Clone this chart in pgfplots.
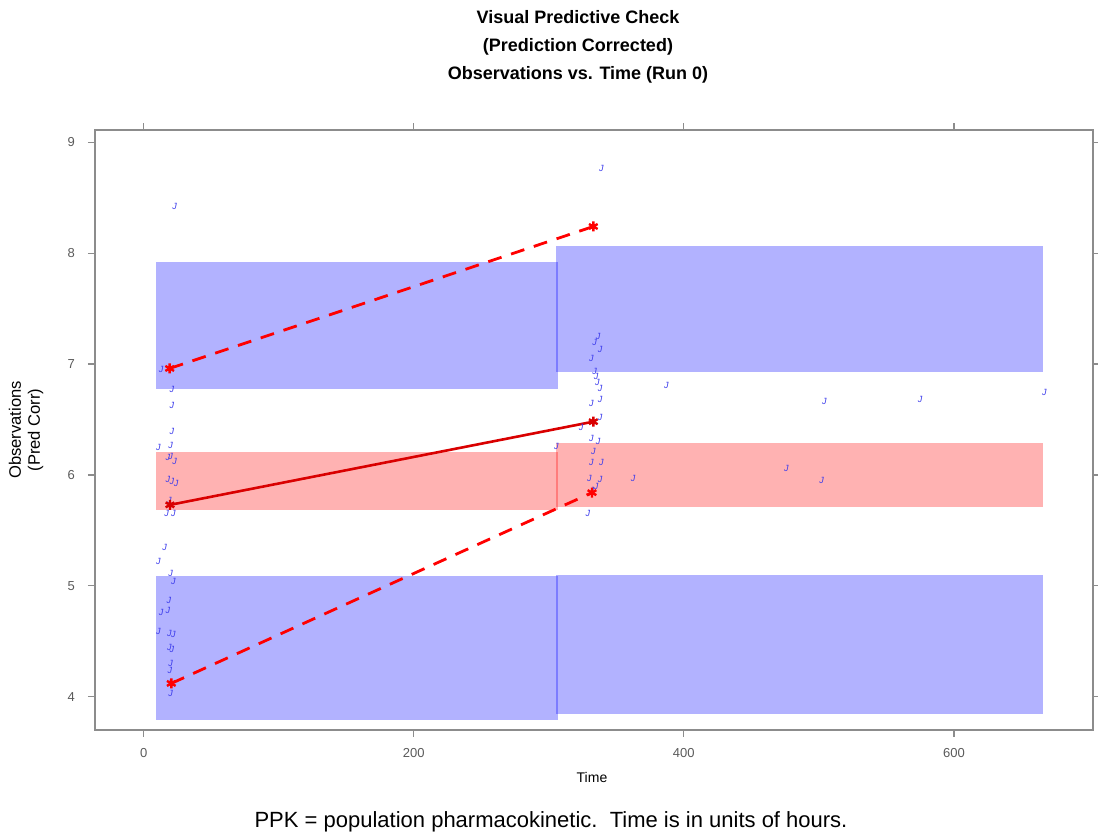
\documentclass[border=0pt]{standalone}
\usepackage{pgfplots}
\pgfplotsset{compat=1.18}
\usepackage{fontspec}
\setmainfont{Liberation Sans}
\definecolor{axgray}{RGB}{140,140,140}
\definecolor{lblgray}{RGB}{90,90,90}
\definecolor{bandblue}{RGB}{0,0,255}
\definecolor{bandred}{RGB}{255,0,0}
\definecolor{ptblue}{RGB}{60,60,235}
\begin{document}
\begin{tikzpicture}
\useasboundingbox (-47.5pt,-55pt) rectangle (501.5pt,365pt);
\begin{axis}[
  at={(0,0)}, anchor=south west,
  scale only axis, width=499pt, height=300pt,
  xmin=-36, xmax=703, ymin=3.70, ymax=9.11,
  xtick={0,200,400,600}, ytick={4,5,6,7,8,9},
  tick align=outside, major tick length=3.5pt,
  axis line style={axgray, line width=0.6pt},
  every tick/.style={axgray, line width=0.6pt},
  tick label style={lblgray, font=\fontsize{6.5}{7}\selectfont},
  /pgf/number format/assume math mode=true,
  xticklabel style={yshift=-2pt},
  yticklabel style={xshift=-3pt},
  clip=false,
]
% bands
\addplot[draw=none, fill=bandblue, fill opacity=0.3] coordinates {(9.4,6.775) (306.5,6.775) (306.5,7.92) (9.4,7.92)} -- cycle;
\addplot[draw=none, fill=bandblue, fill opacity=0.3] coordinates {(305.5,6.93) (666,6.93) (666,8.06) (305.5,8.06)} -- cycle;
\addplot[draw=none, fill=bandred, fill opacity=0.3] coordinates {(9.4,5.68) (306.5,5.68) (306.5,6.21) (9.4,6.21)} -- cycle;
\addplot[draw=none, fill=bandred, fill opacity=0.3] coordinates {(305.5,5.71) (666,5.71) (666,6.285) (305.5,6.285)} -- cycle;
\addplot[draw=none, fill=bandblue, fill opacity=0.3] coordinates {(9.4,3.79) (306.5,3.79) (306.5,5.09) (9.4,5.09)} -- cycle;
\addplot[draw=none, fill=bandblue, fill opacity=0.3] coordinates {(305.5,3.84) (666,3.84) (666,5.10) (305.5,5.10)} -- cycle;
% observations
\addplot[only marks, color=ptblue, mark=text, text mark={\color{ptblue}\fontsize{4.5}{4.5}\selectfont\itshape J}] coordinates {
(23,8.42) (13,6.95) (21,6.77) (21,6.63) (21,6.39) (11,6.25) (20,6.27)
(18,6.16) (20,6.17) (23,6.12) (18,5.96) (21,5.94) (24,5.92) (19,5.77) (17,5.65)
(22,5.65) (15.5,5.35) (11,5.22) (20,5.11) (22,5.04) (18.7,4.87) (18,4.78) (13,4.76)
(11,4.59) (19,4.57) (22,4.56) (19,4.44) (21,4.43) (20,4.30) (19.5,4.24) (20,4.03) (19,4.12)
(339,8.76) (336.5,7.25) (334,7.19) (338,7.13) (331.6,7.05) (334,6.93) (335,6.89) (336,6.83)
(338,6.78) (338,6.68) (331.6,6.64) (338,6.52) (324,6.43) (331.6,6.33) (336.5,6.30) (305.6,6.26)
(333,6.21) (331.6,6.11) (339,6.11) (330,5.97) (338,5.96) (335,5.90) (332,5.86) (329,5.65)
(362.5,5.97) (387,6.81) (504,6.66) (575,6.68) (667,6.74) (476,6.06) (502,5.95)
};
% observed percentiles
\addplot[red, line width=1.4pt, dash pattern=on 7pt off 5pt, mark=asterisk, mark size=2.5pt, mark options={solid, line width=1.2pt}] coordinates {(19.3,6.96) (333,8.24)};
\addplot[red!85!black, line width=1.3pt, mark=asterisk, mark size=2.5pt, mark options={solid, line width=1.2pt}] coordinates {(19.5,5.73) (333,6.48)};
\addplot[red, line width=1.4pt, dash pattern=on 7pt off 5pt, mark=asterisk, mark size=2.5pt, mark options={solid, line width=1.2pt}] coordinates {(20.5,4.12) (332,5.84)};
\end{axis}
\node[font=\bfseries\fontsize{9}{14}\selectfont, align=center] at (241.5pt,341.5pt) {Visual Predictive Check\\(Prediction Corrected)\\Observations vs. Time (Run 0)};
\node[font=\fontsize{7}{8}\selectfont] at (248.5pt,-24pt) {Time};
\node[font=\fontsize{8.3}{9.5}\selectfont, align=center, rotate=90] at (-34.5pt,150pt) {Observations\\(Pred Corr)};
\node[font=\fontsize{11}{12}\selectfont] at (228pt,-46pt) {PPK = population pharmacokinetic.\ \ Time is in units of hours.};
\end{tikzpicture}
\end{document}
